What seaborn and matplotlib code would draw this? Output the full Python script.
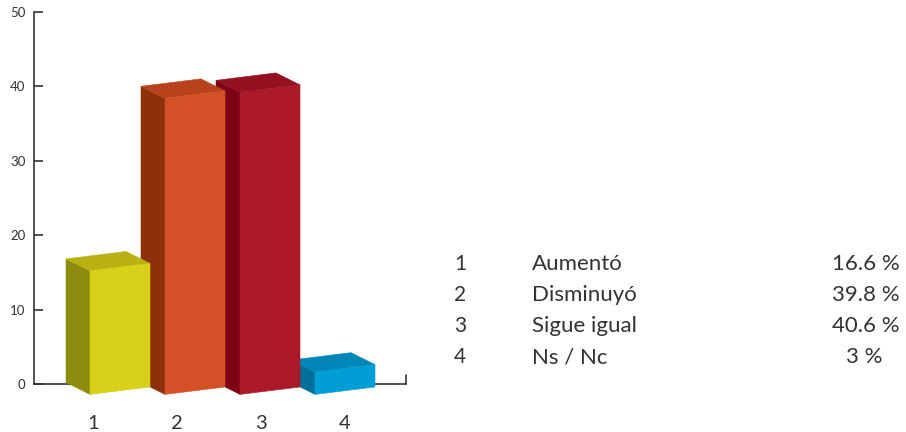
import matplotlib
matplotlib.use("Agg")
import matplotlib.pyplot as plt
from matplotlib.patches import Polygon
import seaborn as sns
import pandas as pd

# Survey answers and their shares (%)
codes = ["1", "2", "3", "4"]
answers = ["Aumentó", "Disminuyó", "Sigue igual", "Ns / Nc"]
shares = [16.6, 39.8, 40.6, 3.0]
share_labels = ["16.6 %", "39.8 %", "40.6 %", "3 %"]

# Face colours per bar: front, side, top
front_colors = ["#D8D11A", "#D45127", "#AC1A29", "#009ED4"]
side_colors = ["#8E8C10", "#8E300A", "#7D0414", "#00709A"]
top_colors = ["#B9B212", "#B8421C", "#951020", "#0087B8"]

yticks = [0, 10, 20, 30, 40, 50]

sns.set_theme(style="white")
plt.rcParams["font.family"] = ["Lato", "DejaVu Sans"]

W, H = 906, 432
fig = plt.figure(figsize=(W / 100, H / 100), dpi=100)
ax_l, ax_r, ax_b, ax_t = 34, 406, 384, 12
ax = fig.add_axes([ax_l / W, 1 - ax_b / H, (ax_r - ax_l) / W, (ax_b - ax_t) / H])

df = pd.DataFrame({"code": codes, "share": shares})
sns.barplot(data=df, x="code", y="share", hue="code", palette=front_colors,
            width=0.8, legend=False, ax=ax, saturation=1)

xmin, xmax = -1.1467, 3.8133
ax.set_xlim(xmin, xmax)
ax.set_ylim(0, 50)

# pixel -> data scale factors for the oblique depth offsets
px_x = (xmax - xmin) / (ax_r - ax_l)
px_y = 50 / (ax_b - ax_t)
depth_dx = -24 * px_x
depth_dy = 12 * px_y
front_drop = 1.4      # front edge sits below the baseline on its left corner
front_rise = 1.0      # rise of the front face across its width

bars = list(ax.patches)
for i, bar in enumerate(bars):
    x0 = bar.get_x()
    w = bar.get_width()
    h = bar.get_height()
    bar.set_visible(False)
    z = 10 - i
    bl = (x0, -front_drop)
    br = (x0 + w, -front_drop + front_rise)
    tl = (x0, h - front_drop)
    tr = (x0 + w, h - front_drop + front_rise)
    back = lambda p: (p[0] + depth_dx, p[1] + depth_dy)
    side = [bl, tl, back(tl), back(bl)]
    top = [tl, tr, back(tr), back(tl)]
    front = [bl, br, tr, tl]
    for pts, col, dz in ((side, side_colors[i], 0.0), (top, top_colors[i], 0.1),
                         (front, front_colors[i], 0.2)):
        ax.add_patch(Polygon(pts, closed=True, facecolor=col, edgecolor=col,
                             linewidth=0.4, zorder=z + dz, clip_on=False))

# axes styling
for s in ("top", "right"):
    ax.spines[s].set_visible(False)
for s in ("left", "bottom"):
    ax.spines[s].set_color("#333333")
    ax.spines[s].set_linewidth(1.2)
    ax.spines[s].set_zorder(1)
ax.axvline(xmax, ymin=0, ymax=9 / (ax_b - ax_t), color="#333333", lw=1.2,
           clip_on=False, zorder=1)

ax.set_yticks(yticks)
ax.set_yticklabels([str(v) for v in yticks])
ax.tick_params(axis="y", direction="in", length=6.5, width=1.2, color="#333333",
               labelsize=9.5, labelcolor="#333333", pad=6, left=True)

label_pos = [-0.36, 0.76, 1.88, 3.0]
ax.set_xticks(label_pos)
ax.set_xticklabels(codes)
ax.tick_params(axis="x", length=0, labelsize=14.5, labelcolor="#333333", pad=22)
ax.set_xlabel("")
ax.set_ylabel("")

# legend table; shares are aligned on the decimal point
rows_y = [264, 295, 326, 357]
share_right = [900, 900, 900, 882]
for code, ans, lab, yy, xr in zip(codes, answers, share_labels, rows_y, share_right):
    fy = 1 - yy / H
    fig.text(460 / W, fy, code, ha="center", va="center", fontsize=15, color="#333333")
    fig.text(532 / W, fy, ans, ha="left", va="center", fontsize=16, color="#333333")
    fig.text(xr / W, fy, lab, ha="right", va="center", fontsize=16, color="#333333")

fig.savefig("out.png", dpi=100)
